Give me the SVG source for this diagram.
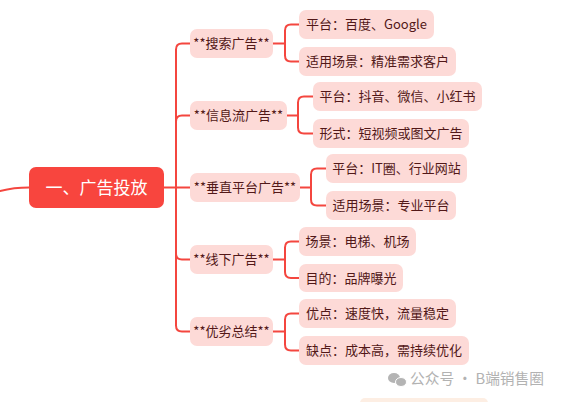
<svg xmlns="http://www.w3.org/2000/svg" width="562" height="402" viewBox="0 0 562 402">
<style>
.ln{fill:none;stroke:#f4463f;stroke-width:2;stroke-linecap:round}
.n{fill:#fddad7}
.t{font-family:"Noto Sans CJK SC","Noto Sans",sans-serif;font-size:13px;fill:#521818;text-anchor:middle}
.rt{font-family:"Noto Sans CJK SC","Noto Sans",sans-serif;font-size:17px;fill:#ffffff;text-anchor:middle}
</style>
<rect width="562" height="402" fill="#ffffff"/>
<g id="connectors">
<path class="ln" d="M0,191 Q14,187.5 29,187.5"/>
<path class="ln" d="M164,187.5 H190"/>
<path class="ln" d="M190,43.5 H182 Q176,43.5 176,49.5 V325.5 Q176,331.5 182,331.5 H190"/>
<path class="ln" d="M176,121.5 Q176,115.5 182,115.5 H190"/>
<path class="ln" d="M176,253.5 Q176,259.5 182,259.5 H190"/>
<path class="ln" d="M273,43.5 H285 M299,24.5 H291 Q285,24.5 285,30.5 V55.5 Q285,61.5 291,61.5 H299"/>
<path class="ln" d="M287,115.5 H298 M313,96.5 H304 Q298,96.5 298,102.5 V127.5 Q298,133.5 304,133.5 H313"/>
<path class="ln" d="M300,187.5 H311 M326,168.5 H317 Q311,168.5 311,174.5 V199.5 Q311,205.5 317,205.5 H326"/>
<path class="ln" d="M273,259.5 H285 M299,241.5 H291 Q285,241.5 285,247.5 V272 Q285,278 291,278 H299"/>
<path class="ln" d="M273,331.5 H285 M299,313.5 H291 Q285,313.5 285,319.5 V344.5 Q285,350.5 291,350.5 H299"/>
</g>
<g id="root"><rect x="29" y="167" width="135" height="41" rx="7" fill="#f8453e"/><text class="rt" x="96.5" y="193.5">一、广告投放</text></g>
<g id="n1"><rect class="n" x="190" y="29" width="83" height="29" rx="7"/><text class="t" x="231.5" y="48">**搜索广告**</text></g>
<g id="n2"><rect class="n" x="190" y="101" width="97" height="29" rx="7"/><text class="t" x="238.5" y="120">**信息流广告**</text></g>
<g id="n3"><rect class="n" x="190" y="173" width="110" height="29" rx="7"/><text class="t" x="245" y="192">**垂直平台广告**</text></g>
<g id="n4"><rect class="n" x="190" y="245" width="83" height="29" rx="7"/><text class="t" x="231.5" y="264">**线下广告**</text></g>
<g id="n5"><rect class="n" x="190" y="317" width="83" height="29" rx="7"/><text class="t" x="231.5" y="336">**优劣总结**</text></g>
<g id="n1a"><rect class="n" x="299" y="10" width="135" height="29" rx="7"/><text class="t" x="366.5" y="29">平台：百度、Google</text></g>
<g id="n1b"><rect class="n" x="299" y="47" width="157" height="29" rx="7"/><text class="t" x="377.5" y="66">适用场景：精准需求客户</text></g>
<g id="n2a"><rect class="n" x="313" y="82" width="169" height="29" rx="7"/><text class="t" x="397.5" y="101">平台：抖音、微信、小红书</text></g>
<g id="n2b"><rect class="n" x="313" y="119" width="156" height="29" rx="7"/><text class="t" x="391" y="138">形式：短视频或图文广告</text></g>
<g id="n3a"><rect class="n" x="326" y="154" width="141" height="29" rx="7"/><text class="t" x="396.5" y="173">平台：IT圈、行业网站</text></g>
<g id="n3b"><rect class="n" x="326" y="191" width="130" height="29" rx="7"/><text class="t" x="391" y="210">适用场景：专业平台</text></g>
<g id="n4a"><rect class="n" x="299" y="227" width="117" height="29" rx="7"/><text class="t" x="357.5" y="246">场景：电梯、机场</text></g>
<g id="n4b"><rect class="n" x="299" y="264" width="104" height="28" rx="7"/><text class="t" x="351" y="282.5">目的：品牌曝光</text></g>
<g id="n5a"><rect class="n" x="299" y="299" width="157" height="29" rx="7"/><text class="t" x="377.5" y="318">优点：速度快，流量稳定</text></g>
<g id="n5b"><rect class="n" x="299" y="336" width="170" height="29" rx="7"/><text class="t" x="384" y="355">缺点：成本高，需持续优化</text></g>
<g id="watermark">
<ellipse cx="394" cy="378" rx="6" ry="5" fill="#b4b4b4"/>
<ellipse cx="401" cy="382" rx="5.5" ry="4.5" fill="#b4b4b4" stroke="#ffffff" stroke-width="1"/>
<text x="410" y="384" font-family="Noto Sans CJK SC,sans-serif" font-size="15" fill="#b2b2b2" textLength="134" lengthAdjust="spacingAndGlyphs">公众号 · B端销售圈</text>
</g>
<rect x="360" y="398" width="128" height="10" rx="5" fill="#fdeee3"/>
</svg>
